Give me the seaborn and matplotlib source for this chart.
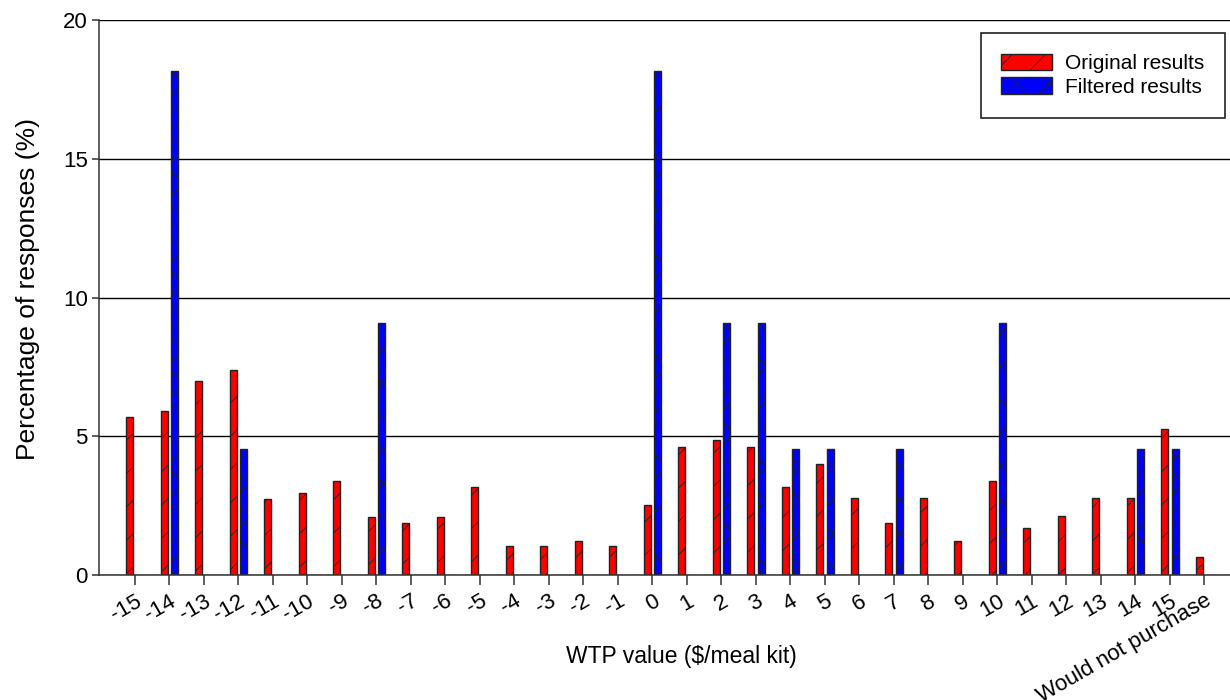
import numpy as np
import pandas as pd
import matplotlib
matplotlib.use('Agg')
import matplotlib.pyplot as plt
import matplotlib.patches as mpatches
import seaborn as sns

categories = ['-15', '-14', '-13', '-12', '-11', '-10', '-9', '-8', '-7', '-6', '-5',
              '-4', '-3', '-2', '-1', '0', '1', '2', '3', '4', '5', '6', '7', '8',
              '9', '10', '11', '12', '13', '14', '15', 'Would not purchase']

original = [5.68, 5.92, 6.98, 7.39, 2.75, 2.94, 3.39, 2.10, 1.89, 2.10, 3.18,
            1.05, 1.05, 1.24, 1.05, 2.53, 4.61, 4.86, 4.61, 3.16, 3.99, 2.76,
            1.89, 2.76, 1.24, 3.40, 1.71, 2.11, 2.76, 2.76, 5.27, 0.64]

nan = np.nan
filtered = [nan, 18.18, nan, 4.55, nan, nan, nan, 9.09, nan, nan, nan,
            nan, nan, nan, nan, 18.18, nan, 9.09, 9.09, 4.55, 4.55, nan,
            4.55, nan, nan, 9.09, nan, nan, nan, 4.55, 4.55, nan]

series = ['Original results', 'Filtered results']
colors = {'Original results': '#ff0000', 'Filtered results': '#0000ff'}
hatches = {'Original results': '/', 'Filtered results': 'x'}

df = pd.DataFrame({
    'WTP': categories * 2,
    'pct': original + filtered,
    'series': [series[0]] * len(categories) + [series[1]] * len(categories),
})

sns.set_style('ticks')
plt.rcParams['font.family'] = ['Liberation Sans', 'DejaVu Sans']
plt.rcParams['hatch.color'] = 'black'
plt.rcParams['hatch.linewidth'] = 0.6
for k in ['text.color', 'axes.labelcolor', 'xtick.labelcolor', 'ytick.labelcolor']:
    plt.rcParams[k] = 'black'

fig = plt.figure(figsize=(12.3, 7), dpi=100)
ax = fig.add_axes([99 / 1230, 125 / 700, 1131 / 1230, 555 / 700])

sns.barplot(data=df, x='WTP', y='pct', hue='series', order=categories,
            hue_order=series, palette=colors, saturation=1, width=0.6, gap=0.33,
            edgecolor='#222222', linewidth=1, errorbar=None, legend=False, ax=ax)

for cont, name in zip(ax.containers, series):
    for bar in cont:
        bar.set_hatch(hatches[name])

ax.set_xlim(-1.04, 31.74)
ax.set_ylim(0, 20)
ax.set_yticks([0, 5, 10, 15, 20])
ax.yaxis.grid(True, color='black', linewidth=1)
ax.xaxis.grid(False)
ax.set_axisbelow(True)

for s in ['top', 'right']:
    ax.spines[s].set_visible(False)
for s in ['left', 'bottom']:
    ax.spines[s].set_color('#333333')
    ax.spines[s].set_linewidth(1.1)

ax.tick_params(axis='y', length=5, width=1.1, color='#333333', labelsize=16, pad=3,
               labelcolor='black')
ax.tick_params(axis='x', length=7.2, width=1.1, color='#333333', labelsize=16, pad=4,
               labelcolor='black')
ax.set_xticks(range(len(categories)))
ax.set_xticklabels(categories, rotation=30, ha='right', rotation_mode='anchor')

ax.set_xlabel('WTP value ($/meal kit)', fontsize=16.5, color='black')
ax.set_ylabel('Percentage of responses (%)', fontsize=19, color='black')
ax.xaxis.set_label_coords(0.515, -0.126)
ax.yaxis.set_label_coords(-0.052, 0.516)

handles = [mpatches.Patch(facecolor=colors[n], edgecolor='#222222', hatch=hatches[n],
                          linewidth=1, label=n) for n in series]
leg = ax.legend(handles=handles, loc='upper right', bbox_to_anchor=(1 - 5 / 1131, 1 - 13 / 555),
                borderaxespad=0, fontsize=15, frameon=True, fancybox=False,
                edgecolor='#222222', framealpha=1, handlelength=2.45, handleheight=0.82,
                handletextpad=0.6, borderpad=1.0, labelspacing=0.2)
leg.get_frame().set_linewidth(1.2)
for t in leg.get_texts():
    t.set_color('black')

fig.savefig('out.png', dpi=100)
